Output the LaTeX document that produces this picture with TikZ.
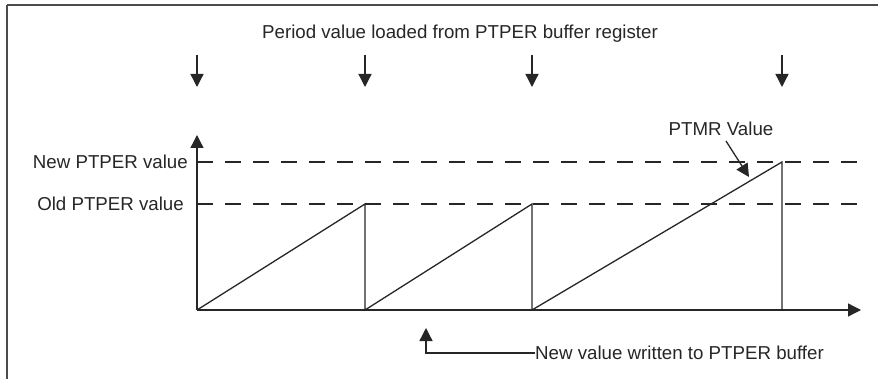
\documentclass[tikz,border=0pt]{standalone}
\usepackage{fontspec}
\setmainfont{Liberation Sans}
\usetikzlibrary{arrows.meta}
\begin{document}
\begin{tikzpicture}[x=1pt,y=-1pt,
  lbl/.style={font=\fontsize{18.7}{22}\selectfont, text=black!85, inner sep=0pt},
  trace/.style={line width=1.3pt, draw=black!85},
  level/.style={line width=1.3pt, draw=black!85, dash pattern=on 16pt off 12pt},
  tip/.style={-{Triangle[length=13pt,width=13pt]}},
  frameline/.style={line width=2pt, draw=black!70}]
\useasboundingbox (0,0) rectangle (878,379);
% frame edges
\draw[frameline] (7,5) -- (878,5);
\draw[frameline] (7,5) -- (7,379);

% axes
\coordinate (O) at (197,310);
\coordinate (ytop) at (197,135);
\coordinate (xend) at (861,310);
\draw[trace,tip] (O) -- (ytop);
\draw[trace,tip] (O) -- (xend);

% period levels
\node[lbl, anchor=east] (newlbl) at (188,162) {New PTPER value};
\node[lbl, anchor=east] (oldlbl) at (184,204) {Old PTPER value};
\coordinate (newL) at (197,162);
\coordinate (newR) at (866,162);
\coordinate (oldL) at (197,204);
\coordinate (oldR) at (860,204);
\draw[level] (newL) -- (newR);
\draw[level] (oldL) -- (oldR);

% sawtooth
\coordinate (p1) at (365,204);
\coordinate (b1) at (365,310);
\coordinate (p2) at (532,204);
\coordinate (b2) at (532,310);
\coordinate (p3) at (782,162);
\coordinate (b3) at (782,310);
\draw[trace] (O) -- (p1) -- (b1) -- (p2) -- (b2) -- (p3) -- (b3);

% load instants
\node[lbl] (loadlbl) at (460,34) {Period value loaded from PTPER buffer register};
\foreach \x/\n in {197/a,365/b,532/c,782/d}{
  \coordinate (s\n) at (\x,55);
  \coordinate (e\n) at (\x,87);
  \draw[trace,tip] (s\n) -- (e\n);
}

% timer value pointer
\node[lbl] (ptmr) at (721,129) {PTMR Value};
\coordinate (ptmrtip) at (749,177);
\draw[trace,tip] (726,141) -- (ptmrtip);

% buffer write instant
\node[lbl, anchor=west] (wrlbl) at (535,353) {New value written to PTPER buffer};
\coordinate (wrtip) at (426,328);
\coordinate (wrcorner) at (426,353);
\draw[trace,tip] (wrlbl.west) -- (wrcorner) -- (wrtip);
\end{tikzpicture}
\end{document}
